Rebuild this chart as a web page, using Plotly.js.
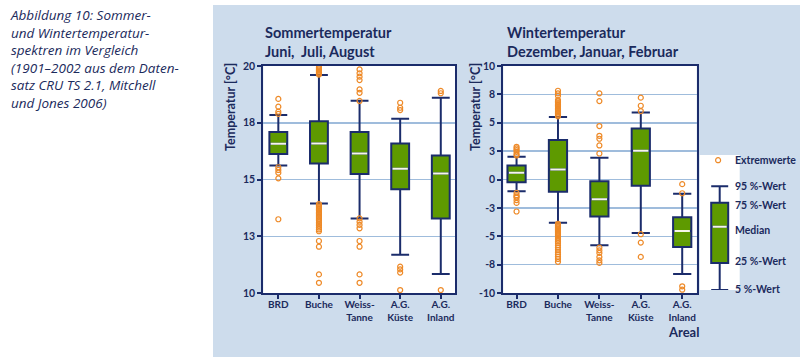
<!DOCTYPE html>
<html>
<head>
<meta charset="utf-8">
<script src="https://cdn.plot.ly/plotly-3.0.1.min.js"></script>
<style>html,body{margin:0;padding:0;background:#fff;}#chart{width:800px;height:358px;}</style>
</head>
<body>
<div id="chart"></div>
<script>
// ---------- DATA ----------
const categories = ['BRD', 'Buche', 'Weiss-<br>Tanne', 'A.G.<br>Küste', 'A.G.<br>Inland'];
const catPos = [0, 1, 2, 3, 4];

// Summer (June, July, August), °C
const summerP5     = [15.62, 13.94, 13.28, 11.69, 10.84];
const summerQ1     = [16.12, 15.71, 15.24, 14.57, 13.28];
const summerMedian = [16.58, 16.59, 16.15, 15.47, 15.26];
const summerQ3     = [17.09, 17.57, 17.09, 16.59, 16.06];
const summerP95    = [17.84, 19.60, 18.47, 17.68, 18.60];
const summerOutliers = [
  [18.55, 18.21, 17.99, 17.89, 15.54, 15.42, 15.30, 15.05, 13.25],
  [19.95, 19.90, 19.85, 19.80, 19.75, 19.70, 19.66, 19.62,
   13.92, 13.86, 13.80, 13.74, 13.68, 13.62, 13.56, 13.50, 13.44, 13.38, 13.32,
   13.26, 13.20, 13.12, 13.04, 12.96, 12.88, 12.80, 12.72, 12.29, 12.04, 10.82, 10.45],
  [19.85, 19.68, 19.53, 19.38, 18.97, 18.82, 18.46,
   13.29, 13.14, 13.00, 12.85, 12.29, 12.04, 10.82, 10.45],
  [18.38, 18.16, 18.06, 11.16, 11.04, 10.90, 10.13],
  [18.90, 18.80, 10.13]
];

// Winter (December, January, February), °C
const winterP5     = [-1.03, -3.82, -5.79, -4.71, -8.32];
const winterQ1     = [-0.24, -1.09, -3.26, -0.56, -5.94];
const winterMedian = [0.59, 0.88, -1.74, 2.53, -4.53];
const winterQ3     = [1.24, 3.47, -0.15, 4.50, -3.32];
const winterP95    = [2.00, 5.50, 1.91, 5.91, -1.26];
const winterOutliers = [
  [2.88, 2.74, 2.60, 2.44, 2.24, 2.12, -1.18, -1.38, -1.50, -1.59, -1.82, -2.06, -2.82],
  [7.82, 7.59, 7.38, 7.00, 6.88, 6.76, 6.64, 6.52, 6.40, 6.28, 6.16, 6.04, 5.92, 5.80, 5.68, 5.56,
   -3.90, -4.00, -4.10, -4.20, -4.30, -4.40, -4.50, -4.60, -4.70, -4.80, -4.90, -5.00, -5.15,
   -5.30, -5.45, -5.60, -5.80, -6.00, -6.20, -6.40, -6.60, -6.80, -7.00, -7.25],
  [7.59, 6.91, 4.71, 3.85, 3.59, 3.00, 2.29, -6.00, -6.24, -6.47, -6.82, -7.12, -7.35],
  [7.21, 6.50, 6.03, -4.82, -5.56, -6.82],
  [-0.41, -1.21, -9.41, -9.71]
];

const summerTickVals = [10, 12.5, 15, 17.5, 20];
const summerTickText = ['10', '13', '15', '18', '20'];
const winterTickVals = [-10, -7.5, -5, -2.5, 0, 2.5, 5, 7.5, 10];
const winterTickText = ['-10', '-8', '-5', '-3', '0', '3', '5', '8', '10'];

// Legend schematic box (illustrative percentile positions) and its labels
const legendStats = {p5: 0, q1: 0.26, median: 0.61, q3: 0.84, p95: 1.0};
const legendOutlierY = 1.25;
const legendLabels = ['95 %-Wert', '75 %-Wert', 'Median', '25 %-Wert', '5 %-Wert'];

// ---------- STYLE ----------
const W = 800, H = 358;
const px = x => x / W;
const py = y => 1 - y / H;
const NAVY = '#1b2c6b';
const TXT = '#1b2a5c';
const GREEN = '#5e9a00';
const ORANGE = '#ee8a28';
const GRID = '#9fbcdc';
const PANEL = '#cddcec';
const FONT = 'Lato, "Open Sans", sans-serif';

function boxTrace(q1, med, q3, lo, hi, xa, ya) {
  return {
    type: 'box', x: catPos, q1: q1, median: med, q3: q3, lowerfence: lo, upperfence: hi,
    xaxis: xa, yaxis: ya, width: 0.44, whiskerwidth: 1, boxpoints: false,
    fillcolor: GREEN, line: {color: NAVY, width: 2}, showlegend: false, hoverinfo: 'skip'
  };
}
function medianTrace(med, xa, ya) {
  return {
    type: 'scatter', mode: 'markers', x: catPos, y: med, xaxis: xa, yaxis: ya,
    marker: {symbol: 'line-ew', size: 11, line: {color: '#f6f6ea', width: 2}},
    showlegend: false, hoverinfo: 'skip'
  };
}
function outlierTrace(outs, xa, ya) {
  const xs = [], ys = [];
  outs.forEach((arr, i) => arr.forEach(v => { xs.push(catPos[i]); ys.push(v); }));
  return {
    type: 'scatter', mode: 'markers', x: xs, y: ys, xaxis: xa, yaxis: ya, cliponaxis: false,
    marker: {symbol: 'circle-open', size: 5, color: ORANGE, line: {color: ORANGE, width: 1.2}},
    showlegend: false, hoverinfo: 'skip'
  };
}

const data = [
  boxTrace(summerQ1, summerMedian, summerQ3, summerP5, summerP95, 'x', 'y'),
  medianTrace(summerMedian, 'x', 'y'),
  outlierTrace(summerOutliers, 'x', 'y'),
  boxTrace(winterQ1, winterMedian, winterQ3, winterP5, winterP95, 'x2', 'y2'),
  medianTrace(winterMedian, 'x2', 'y2'),
  outlierTrace(winterOutliers, 'x2', 'y2'),
  {
    type: 'box', x: [0], q1: [legendStats.q1], median: [legendStats.median], q3: [legendStats.q3],
    lowerfence: [legendStats.p5], upperfence: [legendStats.p95], xaxis: 'x3', yaxis: 'y3',
    width: 0.85, whiskerwidth: 1, boxpoints: false, fillcolor: GREEN, line: {color: NAVY, width: 2},
    showlegend: false, hoverinfo: 'skip'
  },
  {
    type: 'scatter', mode: 'markers', x: [0], y: [legendStats.median], xaxis: 'x3', yaxis: 'y3',
    marker: {symbol: 'line-ew', size: 10, line: {color: '#f6f6ea', width: 2}},
    showlegend: false, hoverinfo: 'skip'
  },
  {
    type: 'scatter', mode: 'markers', x: [-0.08], y: [legendOutlierY], xaxis: 'x3', yaxis: 'y3',
    cliponaxis: false,
    marker: {symbol: 'circle-open', size: 5, color: ORANGE, line: {color: ORANGE, width: 1.2}},
    showlegend: false, hoverinfo: 'skip'
  }
];

function xAxis(domain, range, anchor) {
  return {
    domain: domain, range: range, tickvals: catPos, ticktext: categories, anchor: anchor,
    ticks: 'outside', ticklen: 4, tickwidth: 2, tickcolor: NAVY, ticklabelstandoff: -3,
    showline: true, mirror: true, linecolor: NAVY, linewidth: 2, showgrid: false, zeroline: false,
    tickfont: {family: FONT, size: 10, color: TXT, weight: 'bold'}, fixedrange: true
  };
}
function yAxis(range, vals, text, anchor) {
  return {
    domain: [py(293), py(66)], range: range, tickvals: vals, ticktext: text, anchor: anchor,
    ticks: 'outside', ticklen: 4, tickwidth: 2, tickcolor: NAVY,
    showline: true, mirror: true, linecolor: NAVY, linewidth: 2,
    showgrid: true, gridcolor: GRID, gridwidth: 1.5, zeroline: false,
    tickfont: {family: FONT, size: 10.5, color: TXT, weight: 'bold'}, fixedrange: true
  };
}

const annotations = [];
function ann(text, x, y, opts) {
  annotations.push(Object.assign({
    text: text, x: x, y: y, xref: 'paper', yref: 'paper', showarrow: false,
    xanchor: 'left', yanchor: 'middle',
    font: {family: FONT, size: 10.5, color: TXT, weight: 'bold'}
  }, opts || {}));
}
// caption
ann('<i>Abbildung 10: Sommer-<br>und Wintertemperatur-<br>spektren im Vergleich<br>(1901–2002 aus dem Daten-<br>satz CRU TS 2.1, Mitchell<br>und Jones 2006)</i>',
    px(8), py(4), {yanchor: 'top', align: 'left',
    font: {family: '"Open Sans", sans-serif', size: 13.5, color: TXT, weight: 'normal'}});
// chart titles
const titleFont = {family: FONT, size: 14.5, color: TXT, weight: 'bold'};
ann('Sommertemperatur<br>Juni,\u00a0 Juli, August', px(263), py(42.5), {font: titleFont, align: 'left'});
ann('Wintertemperatur<br>Dezember, Januar, Februar', px(505), py(42), {font: titleFont, align: 'left'});
// y-axis titles
const yTitleFont = {family: FONT, size: 12.5, color: TXT, weight: 'bold'};
ann('Temperatur [°C]', px(230), py(107), {textangle: -90, xanchor: 'center', font: yTitleFont});
ann('Temperatur [°C]', px(475), py(107), {textangle: -90, xanchor: 'center', font: yTitleFont});
// x-axis title
ann('Areal', px(683.5), py(332), {xanchor: 'center', font: {family: FONT, size: 13, color: TXT, weight: 'bold'}});
// legend labels
ann('Extremwerte', px(733), py(160));
const legendLabelY = [186, 205, 230, 261, 289];
legendLabels.forEach((t, i) => ann(t, px(733), py(legendLabelY[i])));

const layout = {
  width: W, height: H, margin: {l: 0, r: 0, t: 0, b: 0},
  paper_bgcolor: PANEL, plot_bgcolor: '#ffffff', showlegend: false,
  font: {family: FONT, color: TXT},
  xaxis: xAxis([px(263.3), px(455)], [-0.37, 4.35], 'y'),
  yaxis: yAxis([10, 20], summerTickVals, summerTickText, 'x'),
  xaxis2: xAxis([px(503.3), px(696.7)], [-0.32, 4.35], 'y2'),
  yaxis2: yAxis([-10, 10], winterTickVals, winterTickText, 'x2'),
  xaxis3: {domain: [px(699.7), px(739.7)], range: [-1, 1], visible: false, fixedrange: true, anchor: 'y3'},
  yaxis3: {domain: [py(290), py(155)], range: [0, 1.3], visible: false, fixedrange: true, anchor: 'x3'},
  shapes: [
    {type: 'rect', xref: 'paper', yref: 'paper', x0: 0, x1: px(213), y0: 0, y1: 1, fillcolor: '#ffffff', line: {width: 0}, layer: 'below'},
    {type: 'rect', xref: 'paper', yref: 'paper', x0: 0, x1: 1, y0: py(5), y1: 1, fillcolor: '#ffffff', line: {width: 0}, layer: 'below'},
    {type: 'rect', xref: 'paper', yref: 'paper', x0: 0, x1: 1, y0: 0, y1: py(357), fillcolor: '#ffffff', line: {width: 0}, layer: 'below'}
  ],
  annotations: annotations
};

Plotly.newPlot('chart', data, layout, {displayModeBar: false, staticPlot: true});
</script>
</body>
</html>
